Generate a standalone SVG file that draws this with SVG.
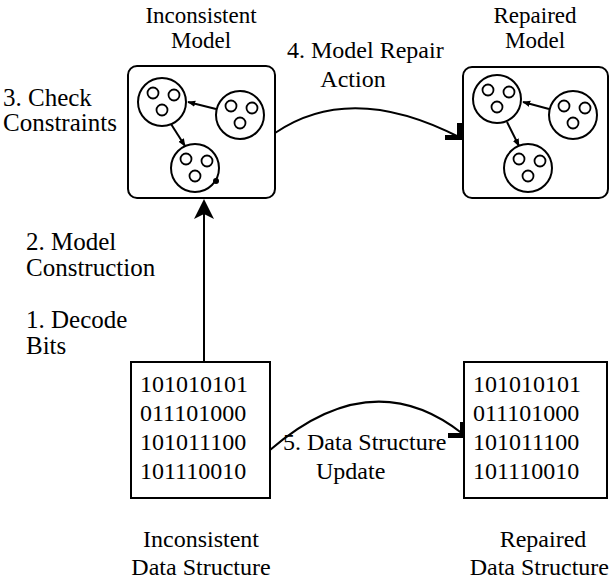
<svg xmlns="http://www.w3.org/2000/svg" width="611" height="584" viewBox="0 0 611 584">
<defs>
<style>
text{font-family:"Liberation Serif","Times New Roman",Times,serif;font-size:24px;fill:#000}
.lbl{font-size:25px}
.ttl{font-size:23px}
.box{fill:#fff;stroke:#000;stroke-width:2}
.c{fill:#fff;stroke:#000;stroke-width:2}
.s{fill:none;stroke:#000;stroke-width:1.8}
.ln{fill:none;stroke:#000;stroke-width:2}
.mid{text-anchor:middle}
.end{text-anchor:end}
</style>
<marker id="sm" viewBox="0 0 10 10" refX="9" refY="5" markerWidth="4" markerHeight="4" orient="auto" markerUnits="strokeWidth"><path d="M0,1 L10,5 L0,9 z" fill="#000"/></marker>
<marker id="big" viewBox="0 0 20 20" refX="15" refY="10" markerWidth="20" markerHeight="20" orient="auto" markerUnits="userSpaceOnUse"><path d="M0,0 L20,10 L0,20 L5,10 z" fill="#000"/></marker>
<g id="mdl">
<circle class="c" cx="0" cy="0" r="24"/>
<circle class="s" cx="-9" cy="-9" r="5.5"/>
<circle class="s" cx="12" cy="-7" r="5.5"/>
<circle class="s" cx="0" cy="8" r="5.5"/>
</g>
</defs>
<g id="connectors">
<line class="ln" x1="204" y1="362" x2="204" y2="204" stroke-width="3" marker-end="url(#big)"/>
<path class="ln" d="M275,133 Q351,81 461,138"/>
<path d="M457,123 L463,123 L463,140 L445,140 L445,135 L457,135 z" fill="#000"/>
<path class="ln" d="M270,450 Q372,362 463,434"/>
<path d="M460,422 L465,422 L465,438 L448,438 L448,433 L460,433 z" fill="#000"/>
</g>
<g id="inconsistent-model">
<text class="mid ttl" x="201" y="23">Inconsistent</text>
<text class="mid ttl" x="201" y="48">Model</text>
<rect class="box" x="128" y="66" width="147" height="132" rx="9"/>
<line class="ln" x1="216" y1="109" x2="188" y2="102" marker-end="url(#sm)"/>
<line class="ln" x1="171" y1="124" x2="185" y2="146" marker-end="url(#sm)"/>
<use href="#mdl" x="162" y="102"/>
<use href="#mdl" x="240" y="115"/>
<use href="#mdl" x="195" y="168"/>
<circle cx="216" cy="181" r="3" fill="#000"/>
</g>
<g id="repaired-model">
<text class="mid ttl" x="535" y="23">Repaired</text>
<text class="mid ttl" x="535" y="48">Model</text>
<rect class="box" x="463" y="67" width="145" height="131" rx="9"/>
<line class="ln" x1="549" y1="109" x2="523" y2="102" marker-end="url(#sm)"/>
<line class="ln" x1="507" y1="122" x2="519" y2="146" marker-end="url(#sm)"/>
<use href="#mdl" x="497" y="99"/>
<use href="#mdl" x="573" y="115"/>
<use href="#mdl" x="528" y="168"/>
</g>
<g id="inconsistent-ds">
<rect class="box" x="131" y="362" width="139" height="136"/>
<text x="140" y="392">101010101</text>
<text x="140" y="421">011101000</text>
<text x="140" y="450">101011100</text>
<text x="140" y="479">101110010</text>
<text class="mid" x="201" y="547">Inconsistent</text>
<text class="mid" x="201" y="575">Data Structure</text>
</g>
<g id="repaired-ds">
<rect class="box" x="464" y="362" width="143" height="136"/>
<text x="473" y="392">101010101</text>
<text x="473" y="421">011101000</text>
<text x="473" y="450">101011100</text>
<text x="473" y="479">101110010</text>
<text class="mid" x="543" y="547">Repaired</text>
<text class="end" x="609" y="575">Data Structure</text>
</g>
<g id="labels">
<text x="287" y="58">4. Model Repair</text>
<text class="mid" x="353" y="87">Action</text>
<text class="lbl" x="3" y="106">3. Check</text>
<text class="lbl" x="3" y="131">Constraints</text>
<text class="lbl" x="26" y="250">2. Model</text>
<text class="lbl" x="26" y="276">Construction</text>
<text class="lbl" x="26" y="328">1. Decode</text>
<text class="lbl" x="26" y="354">Bits</text>
<text x="283" y="450">5. Data Structure</text>
<text x="316" y="479">Update</text>
</g>
</svg>
